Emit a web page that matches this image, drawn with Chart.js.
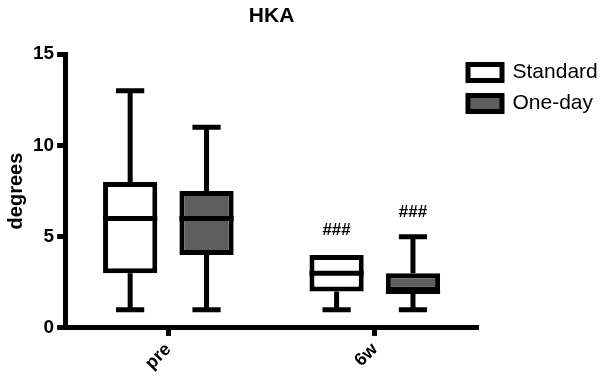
<!DOCTYPE html>
<html>
<head>
<meta charset="utf-8">
<script src="https://cdn.jsdelivr.net/npm/chart.js@4"></script>
<style>
  html, body { margin: 0; padding: 0; background: #fff; }
  #wrap { width: 608px; height: 382px; }
</style>
</head>
<body>
<div id="wrap"><canvas id="chart"></canvas></div>
<script>
const categories = ["pre", "6w"];
const seriesNames = ["Standard", "One-day"];
const seriesFill = ["#ffffff", "#5e5e5e"];

// box stats
const standardMin = [1, 1];
const standardQ1 = [3, 2];
const standardMedian = [6, 3];
const standardQ3 = [8, 4];
const standardMax = [13, 4];

const onedayMin = [1, 1];
const onedayQ1 = [4, 2];
const onedayMedian = [6, 2];
const onedayQ3 = [7.5, 3];
const onedayMax = [11, 5];

const standardMarks = ["", "###"];
const onedayMarks = ["", "###"];

const yTicks = [0, 5, 10, 15];

const FONT = "'Liberation Sans', Arial, sans-serif";
const LW = 5;

function makeSet(i, mins, q1, med, q3, maxs, marks) {
  return {
    label: seriesNames[i],
    data: q1.map((v, k) => [v, q3[k]]),
    stats: { mins, med, maxs, marks },
    backgroundColor: seriesFill[i],
    borderColor: "#000",
    borderWidth: LW,
    borderSkipped: false,
    barPercentage: 0.71,
    categoryPercentage: 0.74
  };
}

const whiskers = {
  id: "whiskers",
  afterDatasetsDraw(chart) {
    const ctx = chart.ctx;
    const y = chart.scales.y;
    ctx.save();
    ctx.strokeStyle = "#000";
    ctx.lineWidth = LW;
    ctx.lineCap = "butt";
    chart.data.datasets.forEach((ds, di) => {
      const meta = chart.getDatasetMeta(di);
      meta.data.forEach((bar, k) => {
        const [q1, q3] = ds.data[k];
        const x = bar.x, w = bar.width;
        const cap = w * 0.52;
        const yMin = y.getPixelForValue(ds.stats.mins[k]);
        const yMax = y.getPixelForValue(ds.stats.maxs[k]);
        const yQ1 = y.getPixelForValue(q1);
        const yQ3 = y.getPixelForValue(q3);
        const yMed = y.getPixelForValue(ds.stats.med[k]);
        ctx.beginPath();
        if (yMax < yQ3) {
          ctx.moveTo(x, yQ3); ctx.lineTo(x, yMax);
          ctx.moveTo(x - cap / 2, yMax); ctx.lineTo(x + cap / 2, yMax);
        }
        if (yMin > yQ1) {
          ctx.moveTo(x, yQ1); ctx.lineTo(x, yMin);
          ctx.moveTo(x - cap / 2, yMin); ctx.lineTo(x + cap / 2, yMin);
        }
        ctx.moveTo(x - w / 2, yMed); ctx.lineTo(x + w / 2, yMed);
        ctx.stroke();

        const mark = ds.stats.marks[k];
        if (mark) {
          ctx.fillStyle = "#000";
          ctx.font = "bold 17px " + FONT;
          ctx.textAlign = "center";
          ctx.textBaseline = "bottom";
          ctx.fillText(mark, x, Math.min(yMax, yQ3) - 16);
        }
      });
    });
    ctx.restore();
  }
};

// legend sits a bit into the plot column and lower, like the original
const legendNudge = {
  id: "legendNudge",
  afterLayout(chart) {
    chart.legend.left -= 20;
    chart.legend.top += 52;
  }
};

new Chart(document.getElementById("chart"), {
  type: "bar",
  data: {
    labels: categories,
    datasets: [
      makeSet(0, standardMin, standardQ1, standardMedian, standardQ3, standardMax, standardMarks),
      makeSet(1, onedayMin, onedayQ1, onedayMedian, onedayQ3, onedayMax, onedayMarks)
    ]
  },
  options: {
    responsive: true,
    maintainAspectRatio: false,
    animation: false,
    layout: { padding: { top: 0, right: 0, bottom: 5, left: 2 } },
    plugins: {
      tooltip: { enabled: false },
      title: {
        display: true,
        text: "HKA",
        color: "#000",
        fullSize: false,
        font: { family: FONT, size: 21, weight: "bold" },
        padding: { top: 4, bottom: 25 }
      },
      legend: {
        position: "right",
        align: "start",
        maxWidth: 130,
        labels: {
          color: "#000",
          font: { family: FONT, size: 21 },
          boxWidth: 34,
          boxHeight: 16,
          padding: 10
        }
      }
    },
    scales: {
      x: {
        grid: { display: true, drawOnChartArea: false, offset: false, tickLength: 8, tickWidth: LW, tickColor: "#000" },
        border: { display: true, color: "#000", width: LW },
        ticks: { color: "#000", font: { family: FONT, size: 18, weight: "bold" }, minRotation: 45, maxRotation: 45 }
      },
      y: {
        min: 0,
        max: 15,
        afterBuildTicks(axis) { axis.ticks = yTicks.map(v => ({ value: v })); },
        grid: { display: true, drawOnChartArea: false, tickLength: 8, tickWidth: LW, tickColor: "#000" },
        border: { display: true, color: "#000", width: LW },
        ticks: { color: "#000", font: { family: FONT, size: 19, weight: "bold" }, padding: 3 },
        title: { display: true, text: "degrees", color: "#000", font: { family: FONT, size: 20, weight: "bold" }, padding: 2 }
      }
    }
  },
  plugins: [whiskers, legendNudge]
});
</script>
</body>
</html>
